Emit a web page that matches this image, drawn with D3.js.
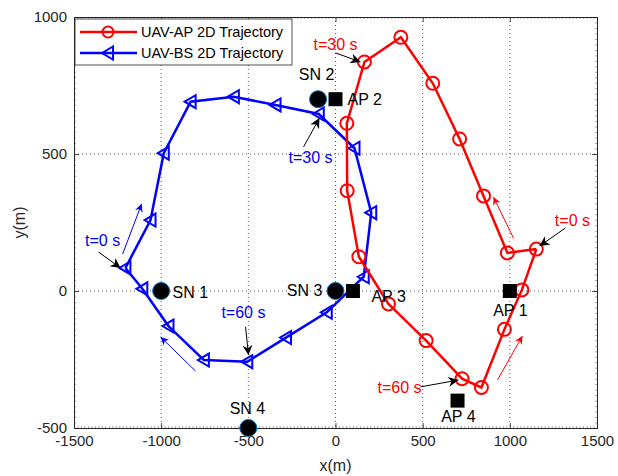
<!DOCTYPE html>
<html><head><meta charset="utf-8">
<script src="https://cdn.jsdelivr.net/npm/d3@7"></script>
<style>body{margin:0;background:#fff;} svg{font-family:"Liberation Sans",Arial,sans-serif;}</style>
</head><body>
<svg id="c" width="618" height="476"></svg>
<script>
// UAV-AP trajectory (red, circles), 5 s per point, closed loop
const apX = [1152, 986, 849, 712, 558, 375, 166, 65, 67, 134, 304, 520, 726, 837, 969, 1069, 1152];
const apY = [153, 139, 347, 555, 758, 926, 836, 612, 366, 125, -47, -181, -320, -352, -140, 4, 153];
// UAV-BS trajectory (blue, triangles)
const bsX = [-1205, -1061, -985, -831, -583, -344, -96, 109, 205, 162, -50, -284, -506, -755, -958, -1108, -1205];
const bsY = [84, 259, 503, 691, 709, 679, 646, 521, 286, 52, -78, -170, -258, -252, -128, 8, 84];
// Sensor nodes and access points
const snNames = ["SN 1", "SN 2", "SN 3", "SN 4"];
const snX = [-1000, -100, 0, -500];
const snY = [0, 700, 0, -500];
const apNames = ["AP 1", "AP 2", "AP 3", "AP 4"];
const apPX = [1000, 0, 100, 700];
const apPY = [0, 700, 0, -400];
// Ticks
const xTicks = [-1500, -1000, -500, 0, 500, 1000, 1500];
const yTicks = [-500, 0, 500, 1000];
const legendLabels = ["UAV-AP 2D Trajectory", "UAV-BS 2D Trajectory"];

const svg = d3.select("#c");
const L = 74, R = 597, T = 17, B = 428;
const x = d3.scaleLinear().domain([-1500, 1500]).range([L, R]);
const y = d3.scaleLinear().domain([-500, 1000]).range([B, T]);
const RED = "#ff0000", BLUE = "#0000ff";
const fmt = d => String(d);

// grid
const g = svg.append("g");
g.selectAll(".gx").data(xTicks.slice(1, -1)).enter().append("line")
  .attr("x1", d => x(d)).attr("x2", d => x(d)).attr("y1", T).attr("y2", B)
  .attr("stroke", "#333").attr("stroke-width", 0.8).attr("stroke-dasharray", "1,3");
g.selectAll(".gy").data(yTicks.slice(1, -1)).enter().append("line")
  .attr("y1", d => y(d)).attr("y2", d => y(d)).attr("x1", L).attr("x2", R)
  .attr("stroke", "#333").attr("stroke-width", 0.8).attr("stroke-dasharray", "1,3");

// minor ticks
const xm = d3.range(-1500, 1501, 20), ym = d3.range(-500, 1001, 20);
svg.append("g").attr("transform", `translate(0,${B})`).call(d3.axisBottom(x).tickValues(xm).tickSize(-2).tickFormat(""));
svg.append("g").attr("transform", `translate(0,${T})`).call(d3.axisTop(x).tickValues(xm).tickSize(-2).tickFormat(""));
svg.append("g").attr("transform", `translate(${L},0)`).call(d3.axisLeft(y).tickValues(ym).tickSize(-2).tickFormat(""));
svg.append("g").attr("transform", `translate(${R},0)`).call(d3.axisRight(y).tickValues(ym).tickSize(-2).tickFormat(""));
svg.selectAll(".tick line").attr("stroke", "#555").attr("stroke-width", 0.5);

// axes
svg.append("g").attr("class", "maj").attr("transform", `translate(0,${B})`)
  .call(d3.axisBottom(x).tickValues(xTicks).tickSize(-5).tickPadding(7).tickFormat(fmt));
svg.append("g").attr("class", "maj").attr("transform", `translate(0,${T})`)
  .call(d3.axisTop(x).tickValues(xTicks).tickSize(-5).tickFormat(""));
svg.append("g").attr("class", "maj").attr("transform", `translate(${L},0)`)
  .call(d3.axisLeft(y).tickValues(yTicks).tickSize(-5).tickPadding(7).tickFormat(fmt));
svg.append("g").attr("class", "maj").attr("transform", `translate(${R},0)`)
  .call(d3.axisRight(y).tickValues(yTicks).tickSize(-5).tickFormat(""));
svg.selectAll(".domain").attr("stroke", "#262626").attr("stroke-width", 1);
svg.selectAll(".maj .tick line").attr("stroke", "#262626").attr("stroke-width", 0.8);
svg.selectAll(".tick text").attr("font-size", 15).attr("fill", "#262626").attr("font-family", "Liberation Sans, Arial, sans-serif");

svg.append("text").attr("x", x(0)).attr("y", 471).attr("text-anchor", "middle")
  .attr("font-size", 16).attr("fill", "#262626").text("x(m)");
svg.append("text").attr("transform", `translate(25,${(T + B) / 2}) rotate(-90)`).attr("text-anchor", "middle")
  .attr("font-size", 16).attr("fill", "#262626").text("y(m)");

// arrow marker
const defs = svg.append("defs");
function mk(id, color, w, h) {
  defs.append("marker").attr("id", id).attr("viewBox", "0 0 10 10").attr("refX", 10).attr("refY", 5)
    .attr("markerWidth", w).attr("markerHeight", h).attr("markerUnits", "userSpaceOnUse").attr("orient", "auto")
    .append("path").attr("d", "M0,0 L10,5 L0,10 L3,5 Z").attr("fill", color);
}
mk("ab", "#000", 14, 10);
mk("ar", RED, 12, 8);
mk("abl", BLUE, 12, 8);

const line = d3.line().x(d => x(d[0])).y(d => y(d[1]));
const apPts = apX.map((v, i) => [v, apY[i]]);
const bsPts = bsX.map((v, i) => [v, bsY[i]]);

svg.append("path").attr("d", line(bsPts)).attr("fill", "none").attr("stroke", BLUE).attr("stroke-width", 2.5);
const triPath = "M-6,0 L5,-6.5 L5,6.5 Z";
svg.selectAll(".tri").data(bsPts.slice(0, -1)).enter().append("path")
  .attr("d", triPath).attr("transform", d => `translate(${x(d[0])},${y(d[1])})`)
  .attr("fill", "none").attr("stroke", BLUE).attr("stroke-width", 2);

svg.append("path").attr("d", line(apPts)).attr("fill", "none").attr("stroke", RED).attr("stroke-width", 2.5);
svg.selectAll(".cir").data(apPts.slice(0, -1)).enter().append("circle")
  .attr("cx", d => x(d[0])).attr("cy", d => y(d[1])).attr("r", 6.5)
  .attr("fill", "none").attr("stroke", RED).attr("stroke-width", 2);

// SN & AP
svg.selectAll(".sn").data(snX).enter().append("circle")
  .attr("cx", (d, i) => x(d)).attr("cy", (d, i) => y(snY[i])).attr("r", 8.5)
  .attr("fill", "#000").attr("stroke", "#0072BD").attr("stroke-width", 1);
svg.selectAll(".ap").data(apPX).enter().append("rect")
  .attr("x", (d, i) => x(d) - 7).attr("y", (d, i) => y(apPY[i]) - 7).attr("width", 14).attr("height", 14)
  .attr("fill", "#000");

// labels
const labels = [
  ["SN 1", -935, -25, "start"], ["SN 2", -109, 770, "middle"], ["SN 3", -75, -18, "end"], ["SN 4", -505, -449, "middle"],
  ["AP 1", 1003, -91, "middle"], ["AP 2", 69, 679, "start"], ["AP 3", 206, -40, "start"], ["AP 4", 705, -478, "middle"]
];
svg.selectAll(".lbl").data(labels).enter().append("text")
  .attr("x", d => x(d[1])).attr("y", d => y(d[2])).attr("text-anchor", d => d[3])
  .attr("font-size", 16).attr("fill", "#000").text(d => d[0]);

// time annotations [text, tx, ty, color, x1,y1,x2,y2]
const notes = [
  ["t=30 s", 0, 880, RED, 0, 869, 143, 836],
  ["t=0 s", 1359, 237, RED, 1319, 230, 1170, 164],
  ["t=60 s", 367, -372, RED, 487, -350, 705, -325],
  ["t=30 s", -143, 467, BLUE, -183, 526, -92, 631],
  ["t=0 s", -1336, 164, BLUE, -1359, 142, -1233, 84],
  ["t=60 s", -528, -99, BLUE, -516, -131, -499, -234]
];
svg.selectAll(".na").data(notes).enter().append("line")
  .attr("x1", d => x(d[4])).attr("y1", d => y(d[5])).attr("x2", d => x(d[6])).attr("y2", d => y(d[7]))
  .attr("stroke", "#000").attr("stroke-width", 1).attr("marker-end", "url(#ab)");
svg.selectAll(".nt").data(notes).enter().append("text")
  .attr("x", d => x(d[1])).attr("y", d => y(d[2])).attr("text-anchor", "middle")
  .attr("font-size", 16).attr("fill", d => d[3]).text(d => d[0]);

// direction arrows [color, x1,y1,x2,y2]
const dirs = [
  [RED, 1021, 193, 906, 343, "ar"],
  [RED, 929, -325, 1072, -164, "ar"],
  [BLUE, -1221, 135, -1112, 318, "abl"],
  [BLUE, -803, -292, -1003, -168, "abl"]
];
svg.selectAll(".dir").data(dirs).enter().append("line")
  .attr("x1", d => x(d[1])).attr("y1", d => y(d[2])).attr("x2", d => x(d[3])).attr("y2", d => y(d[4]))
  .attr("stroke", d => d[0]).attr("stroke-width", 1).attr("marker-end", d => `url(#${d[5]})`);

// legend
const lg = svg.append("g");
lg.append("rect").attr("x", 75).attr("y", 19).attr("width", 217).attr("height", 46)
  .attr("fill", "#fff").attr("stroke", "#262626").attr("stroke-width", 0.8);
legendLabels.forEach((t, i) => {
  const yy = 32 + i * 21;
  const c = i === 0 ? RED : BLUE;
  lg.append("line").attr("x1", 80).attr("x2", 137).attr("y1", yy).attr("y2", yy).attr("stroke", c).attr("stroke-width", 2.5);
  if (i === 0) lg.append("circle").attr("cx", 108).attr("cy", yy).attr("r", 5.5).attr("fill", "none").attr("stroke", c).attr("stroke-width", 2);
  else lg.append("path").attr("d", triPath).attr("transform", `translate(108,${yy})`).attr("fill", "none").attr("stroke", c).attr("stroke-width", 2);
  lg.append("text").attr("x", 141).attr("y", yy + 5).attr("font-size", 14.5).attr("fill", "#000").text(t);
});
</script>
</body></html>
